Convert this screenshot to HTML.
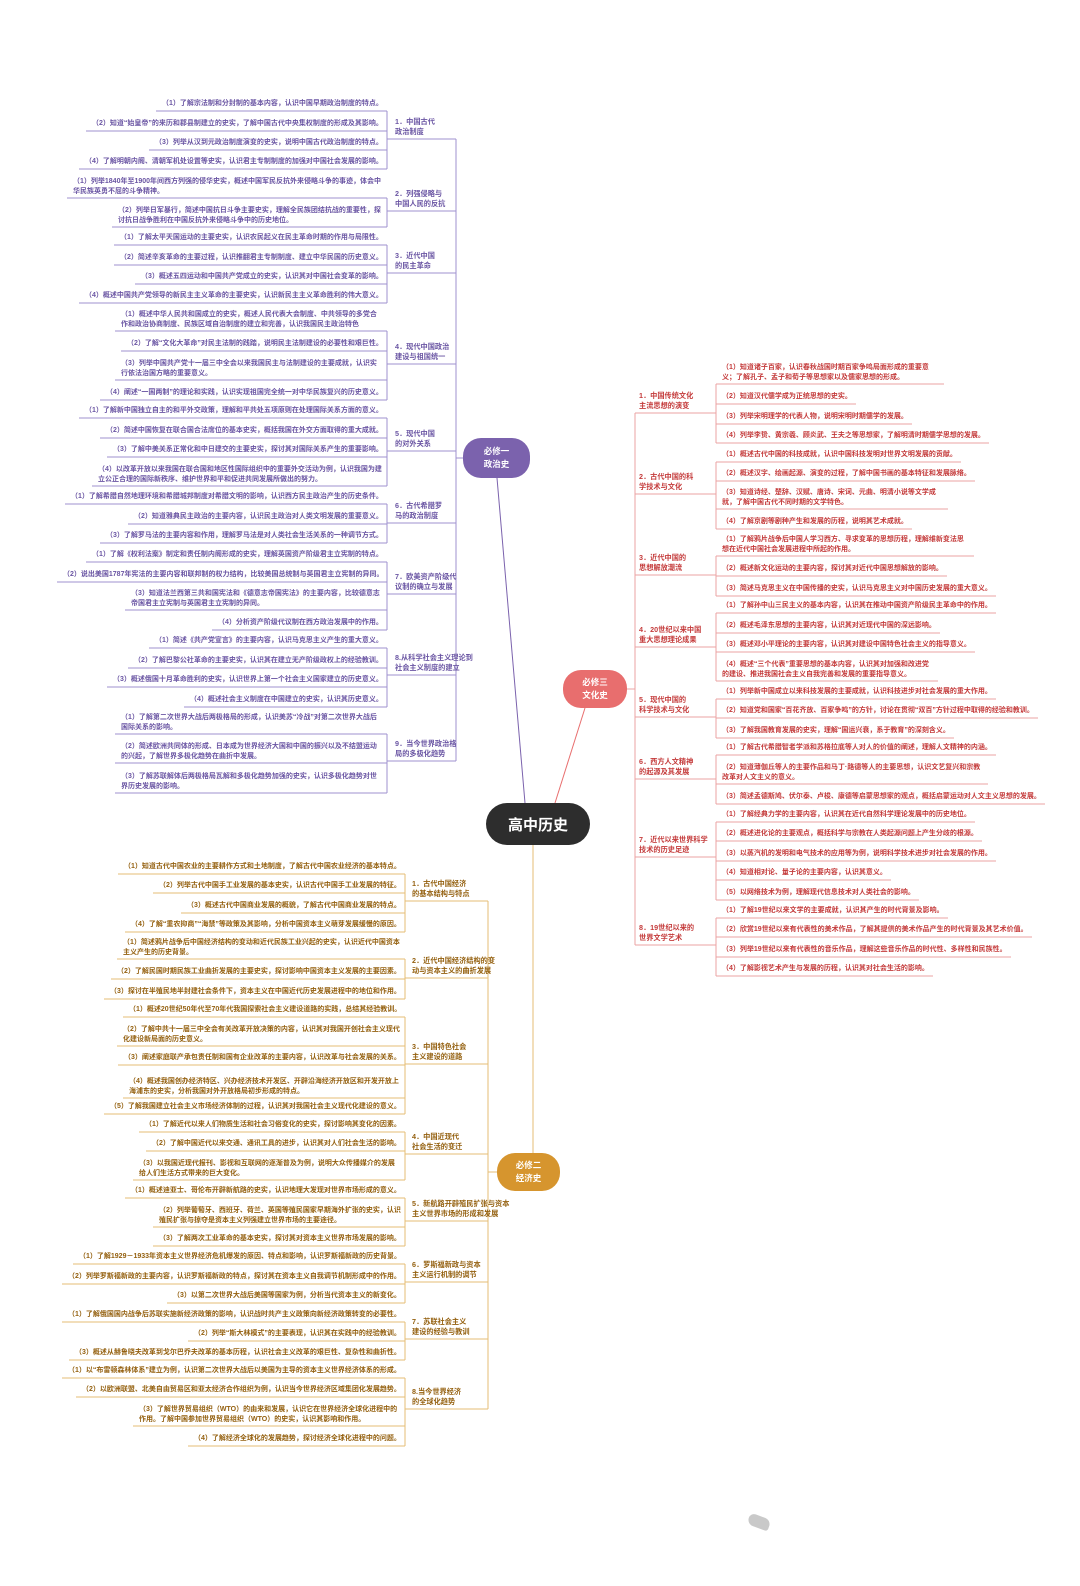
<!DOCTYPE html>
<html><head><meta charset="utf-8">
<style>
html,body{margin:0;padding:0;background:#fff;}
#c{position:relative;width:1080px;height:1586px;overflow:hidden;font-family:"Liberation Sans","Noto Sans CJK SC",sans-serif;}
.lf{position:absolute;font-size:7px;line-height:9.5px;font-weight:bold;padding:0 4px 2px 6px;white-space:nowrap;}
.lb{position:absolute;font-size:7.2px;line-height:10px;font-weight:bold;white-space:nowrap;}
.nd{position:absolute;color:#fff;font-weight:bold;text-align:center;display:flex;align-items:center;justify-content:center;}
svg{position:absolute;left:0;top:0;}
</style></head><body><div id="c">
<svg id="s" width="1080" height="1586"></svg>
<div class="nd" style="left:486px;top:803px;width:104px;height:42px;border-radius:21px;background:#2d2d2d;font-size:15px;">高中历史</div>
<div class="nd" style="left:463px;top:438px;width:67px;height:40px;border-radius:18px;background:#7b62ad;font-size:8.5px;line-height:13px;">必修一<br>政治史</div>
<div class="nd" style="left:563px;top:670px;width:64px;height:38px;border-radius:18px;background:#e86e6e;font-size:8.5px;line-height:13px;">必修三<br>文化史</div>
<div class="nd" style="left:497px;top:1153px;width:63px;height:38px;border-radius:18px;background:#d6952e;font-size:8.5px;line-height:13px;">必修二<br>经济史</div>
<div style="position:absolute;left:748px;top:1516px;width:22px;height:12px;border-radius:8px 10px 4px 10px;background:#c9c9c9;transform:rotate(20deg);"></div>
</div>
<script>
var S=document.getElementById('s'),C=document.getElementById('c');
function L(x1,y1,x2,y2,c){var l=document.createElementNS('http://www.w3.org/2000/svg','line');l.setAttribute('x1',x1);l.setAttribute('y1',y1);l.setAttribute('x2',x2);l.setAttribute('y2',y2);l.setAttribute('stroke',c);l.setAttribute('stroke-width','1');S.appendChild(l);}
function side(cfg){
 var mainYs=[];
 cfg.groups.forEach(function(g){
  var ys=[];
  g.leaves.forEach(function(lv){
   var y=lv[0],t=lv[1],w=lv[2];
   var d=document.createElement('div');d.className='lf';d.style.color=cfg.tc;
   d.innerHTML=t;
   var top=y-5;d.style.top=top+'px';
   if(w){d.style.whiteSpace='normal';d.style.width=w+'px';}
   C.appendChild(d);
   var h=d.offsetHeight, wd=d.offsetWidth, uy=top+h;
   if(cfg.left){d.style.left=(cfg.bx-wd)+'px';L(cfg.bx-wd,uy,cfg.bx,uy,cfg.lc);}
   else{d.style.left=cfg.bx+'px';L(cfg.bx,uy,cfg.bx+wd,uy,cfg.lc);}
   ys.push(uy);
  });
  var b=document.createElement('div');b.className='lb';b.style.color=cfg.tc;b.innerHTML=g.lab;
  b.style.top=(g.y-5)+'px';b.style.left=cfg.lx+'px';C.appendChild(b);
  var ly=g.y-5+b.offsetHeight+2;
  var top=Math.min(ys[0],ly),bot=Math.max(ys[ys.length-1],ly);
  L(cfg.bx,top,cfg.bx,bot,cfg.lc);
  L(cfg.bx,ly,cfg.mx,ly,cfg.lc);
  mainYs.push(ly);
 });
 L(cfg.mx,Math.min.apply(0,mainYs.concat([cfg.ny])),cfg.mx,Math.max.apply(0,mainYs.concat([cfg.ny])),cfg.lc);
 L(cfg.mx,cfg.ny,cfg.nx,cfg.ny,cfg.lc);
}
side({left:true,bx:387,lx:395,mx:456,ny:458,nx:463,tc:'#6a55a3',lc:'#9f92cf',groups:[
{lab:'1．中国古代<br>政治制度',y:122,leaves:[[104,'（1）了解宗法制和分封制的基本内容，认识中国早期政治制度的特点。'],[124,'（2）知道“始皇帝”的来历和郡县制建立的史实，了解中国古代中央集权制度的形成及其影响。'],[143,'（3）列举从汉到元政治制度演变的史实，说明中国古代政治制度的特点。'],[162,'（4）了解明朝内阁、清朝军机处设置等史实，认识君主专制制度的加强对中国社会发展的影响。']]},
{lab:'2．列强侵略与<br>中国人民的反抗',y:194,leaves:[[182,'（1）列举1840年至1900年间西方列强的侵华史实，概述中国军民反抗外来侵略斗争的事迹，体会中华民族英勇不屈的斗争精神。',310],[211,'（2）列举日军暴行，简述中国抗日斗争主要史实，理解全民族团结抗战的重要性，探讨抗日战争胜利在中国反抗外来侵略斗争中的历史地位。',265]]},
{lab:'3．近代中国<br>的民主革命',y:256,leaves:[[238,'（1）了解太平天国运动的主要史实，认识农民起义在民主革命时期的作用与局限性。'],[258,'（2）简述辛亥革命的主要过程，认识推翻君主专制制度、建立中华民国的历史意义。'],[277,'（3）概述五四运动和中国共产党成立的史实，认识其对中国社会变革的影响。'],[296,'（4）概述中国共产党领导的新民主主义革命的主要史实，认识新民主主义革命胜利的伟大意义。']]},
{lab:'4．现代中国政治<br>建设与祖国统一',y:347,leaves:[[315,'（1）概述中华人民共和国成立的史实，概述人民代表大会制度、中共领导的多党合作和政治协商制度、民族区域自治制度的建立和完善，认识我国民主政治特色',262],[344,'（2）了解“文化大革命”对民主法制的践踏，说明民主法制建设的必要性和艰巨性。'],[364,'（3）列举中国共产党十一届三中全会以来我国民主与法制建设的主要成就，认识实行依法治国方略的重要意义。',262],[393,'（4）阐述“一国两制”的理论和实践，认识实现祖国完全统一对中华民族复兴的历史意义。']]},
{lab:'5．现代中国<br>的对外关系',y:434,leaves:[[411,'（1）了解新中国独立自主的和平外交政策，理解和平共处五项原则在处理国际关系方面的意义。'],[431,'（2）简述中国恢复在联合国合法席位的基本史实，概括我国在外交方面取得的重大成就。'],[450,'（3）了解中美关系正常化和中日建交的主要史实，探讨其对国际关系产生的重要影响。'],[470,'（4）以改革开放以来我国在联合国和地区性国际组织中的重要外交活动为例，认识我国为建立公正合理的国际新秩序、维护世界和平和促进共同发展所做出的努力。',285]]},
{lab:'6．古代希腊罗<br>马的政治制度',y:506,leaves:[[497,'（1）了解希腊自然地理环境和希腊城邦制度对希腊文明的影响，认识西方民主政治产生的历史条件。'],[517,'（2）知道雅典民主政治的主要内容，认识民主政治对人类文明发展的重要意义。'],[536,'（3）了解罗马法的主要内容和作用，理解罗马法是对人类社会生活关系的一种调节方式。']]},
{lab:'7．欧美资产阶级代<br>议制的确立与发展',y:577,leaves:[[555,'（1）了解《权利法案》制定和责任制内阁形成的史实，理解英国资产阶级君主立宪制的特点。'],[575,'（2）说出美国1787年宪法的主要内容和联邦制的权力结构，比较美国总统制与英国君主立宪制的异同。'],[594,'（3）知道法兰西第三共和国宪法和《德意志帝国宪法》的主要内容，比较德意志帝国君主立宪制与英国君主立宪制的异同。',252],[623,'（4）分析资产阶级代议制在西方政治发展中的作用。']]},
{lab:'8.从科学社会主义理论到<br>社会主义制度的建立',y:658,leaves:[[641,'（1）简述《共产党宣言》的主要内容，认识马克思主义产生的重大意义。'],[661,'（2）了解巴黎公社革命的主要史实，认识其在建立无产阶级政权上的经验教训。'],[680,'（3）概述俄国十月革命胜利的史实，认识世界上第一个社会主义国家建立的历史意义。'],[700,'（4）概述社会主义制度在中国建立的史实，认识其历史意义。']]},
{lab:'9．当今世界政治格<br>局的多极化趋势',y:744,leaves:[[718,'（1）了解第二次世界大战后两极格局的形成，认识美苏“冷战”对第二次世界大战后国际关系的影响。',262],[747,'（2）简述欧洲共同体的形成、日本成为世界经济大国和中国的振兴以及不结盟运动的兴起，了解世界多极化趋势在曲折中发展。',262],[777,'（3）了解苏联解体后两极格局瓦解和多极化趋势加强的史实，认识多极化趋势对世界历史发展的影响。',262]]}
]});
side({left:false,bx:716,lx:639,mx:635,ny:689,nx:627,tc:'#c43a3a',lc:'#eba3a3',groups:[
{lab:'1．中国传统文化<br>主流思想的演变',y:396,leaves:[[368,'（1）知道诸子百家，认识春秋战国时期百家争鸣局面形成的重要意义；了解孔子、孟子和荀子等思想家以及儒家思想的形成。',218],[397,'（2）知道汉代儒学成为正统思想的史实。'],[417,'（3）列举宋明理学的代表人物，说明宋明时期儒学的发展。'],[436,'（4）列举李贽、黄宗羲、顾炎武、王夫之等思想家，了解明清时期儒学思想的发展。']]},
{lab:'2．古代中国的科<br>学技术与文化',y:477,leaves:[[455,'（1）概述古代中国的科技成就，认识中国科技发明对世界文明发展的贡献。'],[474,'（2）概述汉字、绘画起源、演变的过程，了解中国书画的基本特征和发展脉络。'],[493,'（3）知道诗经、楚辞、汉赋、唐诗、宋词、元曲、明清小说等文学成就，了解中国古代不同时期的文学特色。',222],[522,'（4）了解京剧等剧种产生和发展的历程，说明其艺术成就。']]},
{lab:'3．近代中国的<br>思想解放潮流',y:558,leaves:[[540,'（1）了解鸦片战争后中国人学习西方、寻求变革的思想历程，理解维新变法思想在近代中国社会发展进程中所起的作用。',248],[569,'（2）概述新文化运动的主要内容，探讨其对近代中国思想解放的影响。'],[589,'（3）简述马克思主义在中国传播的史实，认识马克思主义对中国历史发展的重大意义。']]},
{lab:'4．20世纪以来中国<br>重大思想理论成果',y:630,leaves:[[606,'（1）了解孙中山三民主义的基本内容，认识其在推动中国资产阶级民主革命中的作用。'],[626,'（2）概述毛泽东思想的主要内容，认识其对近现代中国的深远影响。'],[645,'（3）概述邓小平理论的主要内容，认识其对建设中国特色社会主义的指导意义。'],[665,'（4）概述“三个代表”重要思想的基本内容，认识其对加强和改进党的建设、推进我国社会主义自我完善和发展的重要指导意义。',212]]},
{lab:'5．现代中国的<br>科学技术与文化',y:700,leaves:[[692,'（1）列举新中国成立以来科技发展的主要成就，认识科技进步对社会发展的重大作用。'],[711,'（2）知道党和国家“百花齐放、百家争鸣”的方针，讨论在贯彻“双百”方针过程中取得的经验和教训。'],[731,'（3）了解我国教育发展的史实，理解“国运兴衰，系于教育”的深刻含义。']]},
{lab:'6．西方人文精神<br>的起源及其发展',y:762,leaves:[[748,'（1）了解古代希腊智者学派和苏格拉底等人对人的价值的阐述，理解人文精神的内涵。'],[768,'（2）知道薄伽丘等人的主要作品和马丁·路德等人的主要思想，认识文艺复兴和宗教改革对人文主义的意义。',262],[797,'（3）简述孟德斯鸠、伏尔泰、卢梭、康德等启蒙思想家的观点，概括启蒙运动对人文主义思想的发展。']]},
{lab:'7．近代以来世界科学<br>技术的历史足迹',y:840,leaves:[[815,'（1）了解经典力学的主要内容，认识其在近代自然科学理论发展中的历史地位。'],[834,'（2）概述进化论的主要观点，概括科学与宗教在人类起源问题上产生分歧的根源。'],[854,'（3）以蒸汽机的发明和电气技术的应用等为例，说明科学技术进步对社会发展的作用。'],[873,'（4）知道相对论、量子论的主要内容，认识其意义。'],[893,'（5）以网络技术为例，理解现代信息技术对人类社会的影响。']]},
{lab:'8．19世纪以来的<br>世界文学艺术',y:928,leaves:[[911,'（1）了解19世纪以来文学的主要成就，认识其产生的时代背景及影响。'],[930,'（2）欣赏19世纪以来有代表性的美术作品，了解其提供的美术作品产生的时代背景及其艺术价值。'],[950,'（3）列举19世纪以来有代表性的音乐作品，理解这些音乐作品的时代性、多样性和民族性。'],[969,'（4）了解影视艺术产生与发展的历程，认识其对社会生活的影响。']]}
]});
side({left:true,bx:405,lx:412,mx:488,ny:1172,nx:497,tc:'#94600f',lc:'#e6bd76',groups:[
{lab:'1．古代中国经济<br>的基本结构与特点',y:884,leaves:[[867,'（1）知道古代中国农业的主要耕作方式和土地制度，了解古代中国农业经济的基本特点。'],[886,'（2）列举古代中国手工业发展的基本史实，认识古代中国手工业发展的特征。'],[906,'（3）概述古代中国商业发展的概貌，了解古代中国商业发展的特点。'],[925,'（4）了解“重农抑商”“海禁”等政策及其影响，分析中国资本主义萌芽发展缓慢的原因。']]},
{lab:'2．近代中国经济结构的变<br>动与资本主义的曲折发展',y:961,leaves:[[943,'（1）简述鸦片战争后中国经济结构的变动和近代民族工业兴起的史实，认识近代中国资本主义产生的历史背景。',278],[972,'（2）了解民国时期民族工业曲折发展的主要史实，探讨影响中国资本主义发展的主要因素。'],[992,'（3）探讨在半殖民地半封建社会条件下，资本主义在中国近代历史发展进程中的地位和作用。']]},
{lab:'3．中国特色社会<br>主义建设的道路',y:1047,leaves:[[1010,'（1）概述20世纪50年代至70年代我国探索社会主义建设道路的实践，总结其经验教训。'],[1030,'（2）了解中共十一届三中全会有关改革开放决策的内容，认识其对我国开创社会主义现代化建设新局面的历史意义。',278],[1058,'（3）阐述家庭联产承包责任制和国有企业改革的主要内容，认识改革与社会发展的关系。'],[1082,'（4）概述我国创办经济特区、兴办经济技术开发区、开辟沿海经济开放区和开发开放上海浦东的史实，分析我国对外开放格局初步形成的特点。',272],[1107,'（5）了解我国建立社会主义市场经济体制的过程，认识其对我国社会主义现代化建设的意义。']]},
{lab:'4．中国近现代<br>社会生活的变迁',y:1137,leaves:[[1125,'（1）了解近代以来人们物质生活和社会习俗变化的史实，探讨影响其变化的因素。'],[1144,'（2）了解中国近代以来交通、通讯工具的进步，认识其对人们社会生活的影响。'],[1164,'（3）以我国近现代报刊、影视和互联网的逐渐普及为例，说明大众传播媒介的发展给人们生活方式带来的巨大变化。',262]]},
{lab:'5．新航路开辟殖民扩张与资本<br>主义世界市场的形成和发展',y:1204,leaves:[[1191,'（1）概述迪亚士、哥伦布开辟新航路的史实，认识地理大发现对世界市场形成的意义。'],[1211,'（2）列举葡萄牙、西班牙、荷兰、英国等殖民国家早期海外扩张的史实，认识殖民扩张与掠夺是资本主义列强建立世界市场的主要途径。',242],[1239,'（3）了解两次工业革命的基本史实，探讨其对资本主义世界市场发展的影响。']]},
{lab:'6．罗斯福新政与资本<br>主义运行机制的调节',y:1265,leaves:[[1257,'（1）了解1929－1933年资本主义世界经济危机爆发的原因、特点和影响，认识罗斯福新政的历史背景。'],[1277,'（2）列举罗斯福新政的主要内容，认识罗斯福新政的特点，探讨其在资本主义自我调节机制形成中的作用。'],[1296,'（3）以第二次世界大战后美国等国家为例，分析当代资本主义的新变化。']]},
{lab:'7．苏联社会主义<br>建设的经验与教训',y:1322,leaves:[[1315,'（1）了解俄国国内战争后苏联实施新经济政策的影响，认识战时共产主义政策向新经济政策转变的必要性。'],[1334,'（2）列举“斯大林模式”的主要表现，认识其在实践中的经验教训。'],[1353,'（3）概述从赫鲁晓夫改革到戈尔巴乔夫改革的基本历程，认识社会主义改革的艰巨性、复杂性和曲折性。']]},
{lab:'8.当今世界经济<br>的全球化趋势',y:1392,leaves:[[1371,'（1）以“布雷顿森林体系”建立为例，认识第二次世界大战后以美国为主导的资本主义世界经济体系的形成。'],[1390,'（2）以欧洲联盟、北美自由贸易区和亚太经济合作组织为例，认识当今世界经济区域集团化发展趋势。'],[1410,'（3）了解世界贸易组织（WTO）的由来和发展，认识它在世界经济全球化进程中的作用。了解中国参加世界贸易组织（WTO）的史实，认识其影响和作用。',262],[1439,'（4）了解经济全球化的发展趋势，探讨经济全球化进程中的问题。']]}
]});
L(497,478,525,803,'#7b62ad');
L(585,708,555,803,'#e86e6e');
L(533,845,533,1153,'#e6bd76');
</script>
</body></html>
